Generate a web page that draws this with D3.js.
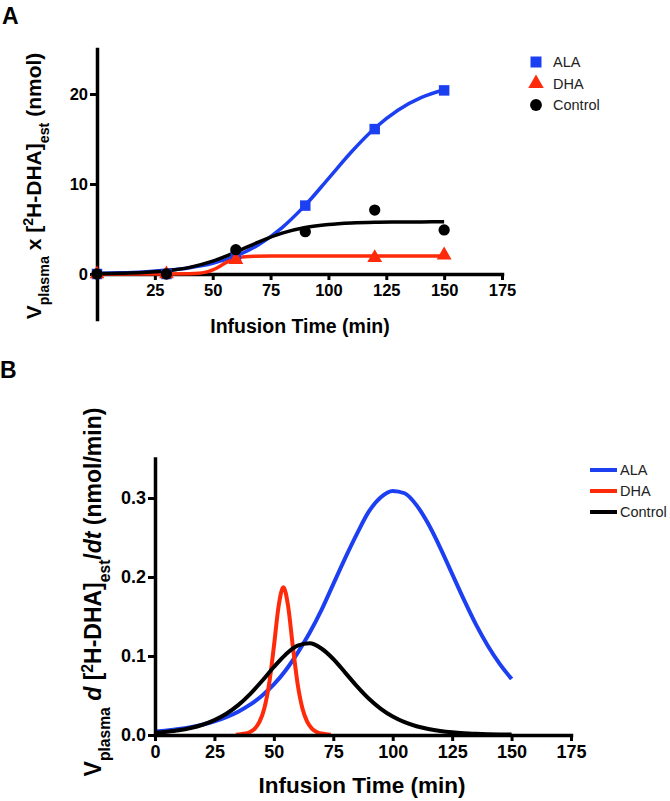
<!DOCTYPE html>
<html>
<head>
<meta charset="utf-8">
<script src="https://cdn.jsdelivr.net/npm/d3@7"></script>
<style>
  html, body { margin: 0; padding: 0; background: #fff; }
  svg { display: block; }
  text { font-family: Arial, "Liberation Sans", Helvetica, sans-serif; }
</style>
</head>
<body>
<svg id="chart" width="670" height="801"></svg>
<script>
// ---------- Panel A data ----------
const seriesNames = ["ALA", "DHA", "Control"];
const seriesColors = ["#1c3ff2", "#ff2a0a", "#000000"];

const sampleTimes = [0, 30, 60, 90, 120, 150];
const alaPoints = [0, 0, 2.0, 7.6, 16.1, 20.4];
const dhaPoints = [0, 0, 1.6, null, 1.8, 2.1];
const controlPoints = [0, 0, 2.7, 4.7, 7.1, 4.9];

const fitTimes = [0, 10, 20, 30, 40, 50, 60, 70, 80, 90, 100, 110, 120, 130, 140, 150];
const alaFit = [0.08, 0.13, 0.23, 0.41, 0.70, 1.19, 2.00, 3.28, 5.16, 7.65, 10.6, 13.58, 16.19, 18.2, 19.59, 20.47];
const controlFit = [0.03, 0.08, 0.17, 0.36, 0.74, 1.43, 2.44, 3.58, 4.54, 5.16, 5.49, 5.66, 5.74, 5.77, 5.79, 5.80];
const dhaFitTimes = [0, 20, 30, 40, 44, 46, 48, 50, 52, 54, 56, 58, 60, 62, 64, 68, 75, 90, 120, 150];
const dhaFit = [0, 0, 0.001, 0.025, 0.084, 0.15, 0.27, 0.45, 0.70, 1.0, 1.30, 1.55, 1.73, 1.85, 1.92, 1.97, 1.99, 2.0, 2.0, 2.0];

const xTicksA = [25, 50, 75, 100, 125, 150, 175];
const yTicksA = [0, 10, 20];

// ---------- Panel B data ----------
const rateTimes = [0, 5, 10, 15, 20, 25, 30, 35, 40, 45, 50, 55, 60, 65, 70, 75, 80, 85, 90, 95, 100, 105, 110, 115, 120, 125, 130, 135, 140, 145, 150];
const alaRate = [0.0044, 0.0058, 0.0076, 0.0100, 0.0131, 0.0172, 0.0226, 0.0295, 0.0384, 0.0498, 0.064, 0.082, 0.104, 0.129, 0.158, 0.191, 0.224, 0.255, 0.283, 0.301, 0.309, 0.306, 0.291, 0.267, 0.237, 0.204, 0.171, 0.140, 0.113, 0.090, 0.071];
const controlRate = [0.0027, 0.0041, 0.0060, 0.0089, 0.0130, 0.0188, 0.0269, 0.0378, 0.0518, 0.0683, 0.0861, 0.102, 0.113, 0.116, 0.1095, 0.0962, 0.079, 0.0615, 0.0458, 0.0331, 0.0234, 0.0162, 0.0111, 0.0076, 0.0051, 0.0034, 0.0023, 0.0016, 0.0011, 0.0007, 0.0005];
const dhaRateTimes = [34, 36, 38, 40, 42, 44, 46, 48, 50, 52, 54, 56, 58, 60, 62, 64, 66, 68, 70, 72, 74];
const dhaRate = [0.0004, 0.0009, 0.0019, 0.0039, 0.0082, 0.0169, 0.0339, 0.0646, 0.1117, 0.163, 0.187, 0.163, 0.1117, 0.0646, 0.0339, 0.0169, 0.0082, 0.0039, 0.0019, 0.0009, 0.0004];

const xTicksB = [0, 25, 50, 75, 100, 125, 150, 175];
const yTicksB = [0, 0.1, 0.2, 0.3];

// ---------- Drawing ----------
const FONT = "Arial, 'Liberation Sans', Helvetica, sans-serif";
const svg = d3.select("#chart");

function styleAxis(g, fontSize) {
  g.select(".domain").attr("stroke", "#000").attr("stroke-width", 3.5).attr("stroke-linecap", "square");
  g.selectAll(".tick line").attr("stroke", "#000").attr("stroke-width", 3);
  g.selectAll(".tick text").attr("fill", "#000").attr("font-size", fontSize).attr("font-weight", "bold")
    .attr("font-family", FONT);
}

function addLabel(g, parts, fontSize) {
  const t = g.append("text").attr("font-size", fontSize).attr("font-weight", "bold").attr("fill", "#000")
    .attr("text-anchor", "middle").attr("font-family", FONT);
  parts.forEach(p => {
    const ts = t.append("tspan").text(p.t);
    if (p.sub) ts.attr("baseline-shift", "sub").attr("font-size", fontSize * 0.68);
    if (p.sup) ts.attr("baseline-shift", "super").attr("font-size", fontSize * 0.68);
    if (p.it) ts.attr("font-style", "italic");
  });
  return t;
}

// ===== Panel A =====
const xA = d3.scaleLinear().domain([0, 175]).range([97, 502]);
const yA = d3.scaleLinear().domain([-5, 25]).range([319, 49]);

svg.append("text").attr("x", 2).attr("y", 24).attr("font-size", 23).attr("font-weight", "bold").attr("font-family", FONT).text("A");

const gxA = svg.append("g").attr("transform", `translate(0,${yA(0)})`)
  .call(d3.axisBottom(xA).tickValues(xTicksA).tickSize(6).tickSizeOuter(0).tickPadding(4));
styleAxis(gxA, 16.5);
const gyA = svg.append("g").attr("transform", `translate(${xA(0)},0)`)
  .call(d3.axisLeft(yA).tickValues(yTicksA).tickSize(7).tickSizeOuter(0).tickPadding(2));
styleAxis(gyA, 16.5);

const lineA = d3.line().x(d => xA(d[0])).y(d => yA(d[1])).curve(d3.curveMonotoneX);
const fitsA = [
  fitTimes.map((t, i) => [t, alaFit[i]]),
  dhaFitTimes.map((t, i) => [t, dhaFit[i]]),
  fitTimes.map((t, i) => [t, controlFit[i]])
];
fitsA.forEach((d, i) => {
  svg.append("path").datum(d).attr("d", lineA).attr("fill", "none")
    .attr("stroke", seriesColors[i]).attr("stroke-width", 3.5);
});

const pointsA = [alaPoints, dhaPoints, controlPoints];
const symbolTypes = [d3.symbolSquare, d3.symbolTriangle, d3.symbolCircle];
const symbolSizes = [110, 95, 100];
pointsA.forEach((vals, i) => {
  const pts = sampleTimes.map((t, j) => [t, vals[j]]).filter(d => d[1] !== null);
  svg.append("g").selectAll("path").data(pts).join("path")
    .attr("d", d3.symbol().type(symbolTypes[i]).size(symbolSizes[i]))
    .attr("transform", d => `translate(${xA(d[0])},${yA(d[1])})`)
    .attr("fill", seriesColors[i]);
});

// legend A
const legA = svg.append("g");
seriesNames.forEach((n, i) => {
  const y = 62 + i * 21.5;
  legA.append("path").attr("d", d3.symbol().type(symbolTypes[i]).size(symbolSizes[i] * 1.1)())
    .attr("transform", `translate(536,${y})`).attr("fill", seriesColors[i]);
  legA.append("text").attr("x", 553).attr("y", y + 5).attr("font-size", 14.5).attr("fill", "#222")
    .attr("font-family", FONT).text(n);
});

// axis titles A
svg.append("text").attr("x", 300).attr("y", 333).attr("text-anchor", "middle").attr("font-family", FONT)
  .attr("font-size", 19.5).attr("font-weight", "bold").text("Infusion Time (min)");
addLabel(svg.append("g").attr("transform", "translate(41,186) rotate(-90)"), [
  { t: "V" }, { t: "plasma", sub: true }, { t: " x [" }, { t: "2", sup: true }, { t: "H-DHA]" }, { t: "est", sub: true }, { t: " (nmol)" }
], 21);

// ===== Panel B =====
const xB = d3.scaleLinear().domain([0, 175]).range([155, 571]);
const yB = d3.scaleLinear().domain([0, 0.35]).range([735, 458.5]);

svg.append("text").attr("x", 0).attr("y", 378).attr("font-size", 23).attr("font-weight", "bold").attr("font-family", FONT).text("B");

const lineB = d3.line().x(d => xB(d[0])).y(d => yB(d[1])).curve(d3.curveMonotoneX);
const ratesB = [
  rateTimes.map((t, i) => [t, alaRate[i]]),
  dhaRateTimes.map((t, i) => [t, dhaRate[i]]),
  rateTimes.map((t, i) => [t, controlRate[i]])
];
ratesB.forEach((d, i) => {
  svg.append("path").datum(d).attr("d", lineB).attr("fill", "none")
    .attr("stroke", seriesColors[i]).attr("stroke-width", 4);
});

const gxB = svg.append("g").attr("transform", `translate(0,${yB(0)})`)
  .call(d3.axisBottom(xB).tickValues(xTicksB).tickSize(6).tickSizeOuter(0).tickPadding(4));
styleAxis(gxB, 18);
const gyB = svg.append("g").attr("transform", `translate(${xB(0)},0)`)
  .call(d3.axisLeft(yB).tickValues(yTicksB).tickFormat(d3.format(".1f")).tickSize(7).tickSizeOuter(0).tickPadding(2));
styleAxis(gyB, 18);

// legend B
const legB = svg.append("g");
seriesNames.forEach((n, i) => {
  const y = 470 + i * 21;
  legB.append("line").attr("x1", 590).attr("x2", 617).attr("y1", y).attr("y2", y)
    .attr("stroke", seriesColors[i]).attr("stroke-width", 4);
  legB.append("text").attr("x", 620).attr("y", y + 5).attr("font-size", 14.5).attr("fill", "#222")
    .attr("font-family", FONT).text(n);
});

svg.append("text").attr("x", 362).attr("y", 793).attr("text-anchor", "middle").attr("font-family", FONT)
  .attr("font-size", 22.5).attr("font-weight", "bold").text("Infusion Time (min)");
addLabel(svg.append("g").attr("transform", "translate(101,592) rotate(-90)"), [
  { t: "V" }, { t: "plasma", sub: true }, { t: " " }, { t: "d", it: true }, { t: " [" }, { t: "2", sup: true }, { t: "H-DHA]" }, { t: "est", sub: true }, { t: "/" }, { t: "dt", it: true }, { t: " (nmol/min)" }
], 23);
</script>
</body>
</html>
